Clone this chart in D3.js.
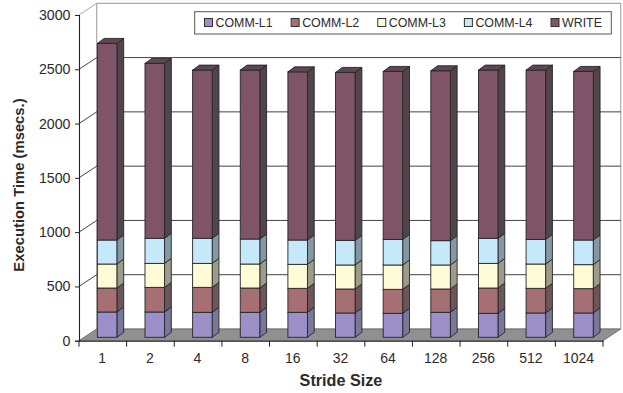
<!DOCTYPE html>
<html>
<head>
<meta charset="utf-8">
<script src="https://d3js.org/d3.v7.min.js"></script>
<style>
    html, body { margin: 0; padding: 0; background: #fff; }
    svg { display: block; }
    text { font-family: "Liberation Sans", Arial, sans-serif; fill: #2b2b2b; }
</style>
</head>
<body>
<div id="dataviz"></div>
<script>
// values (msecs.)
var strideSizes = ["1", "2", "4", "8", "16", "32", "64", "128", "256", "512", "1024"];
var seriesNames = ["COMM-L1", "COMM-L2", "COMM-L3", "COMM-L4", "WRITE"];
var commL1 = [233, 233, 230, 230, 230, 224, 221, 230, 221, 224, 224];
var commL2 = [221, 227, 230, 224, 221, 221, 221, 215, 233, 227, 224];
var commL3 = [221, 221, 221, 221, 221, 221, 224, 221, 227, 224, 221];
var commL4 = [221, 231, 231, 230, 224, 227, 236, 224, 231, 227, 227];
var write = [1811, 1611, 1549, 1556, 1549, 1547, 1547, 1565, 1549, 1559, 1553];
var yTicks = [0, 500, 1000, 1500, 2000, 2500, 3000];

var frontColors = ["#9b90c8", "#a56f73", "#fffbd6", "#c5e9fb", "#7f5468"];
var sideColors = ["#77789c", "#6d5659", "#9c9c8b", "#8398a4", "#51444b"];
var topColor = "#5e4653";

var width = 623, height = 393;

// the box: front plane and how far the back wall is pushed away
var depth = {x: 17.7, y: 11.7};
var barDepth = {x: 6.8, y: 5};
var barOffset = {x: 4.3, y: 3.4};

var svg = d3.select("#dataviz").append("svg")
    .attr("width", width)
    .attr("height", height);

var x = d3.scaleBand()
    .domain(strideSizes)
    .range([79, 603])
    .paddingInner(0.59)
    .paddingOuter(0.295);

var y = d3.scaleLinear()
    .domain([0, 3000])
    .range([340.7, 15]);

var xLeft = x.range()[0], xRight = x.range()[1];
var poly = d3.line();

// back wall and left wall
svg.append("path")
    .attr("d", poly([
        [xLeft + depth.x, y(3000) - depth.y], [xRight + depth.x, y(3000) - depth.y],
        [xRight + depth.x, y(0) - depth.y], [xLeft + depth.x, y(0) - depth.y]
    ]) + "Z")
    .attr("fill", "#fff")
    .attr("stroke", "#a9a9a9")
    .attr("stroke-width", 1.2);

svg.append("line")
    .attr("x1", xLeft).attr("y1", y(3000))
    .attr("x2", xLeft + depth.x).attr("y2", y(3000) - depth.y)
    .attr("stroke", "#a9a9a9");

// gridlines on both walls, 0 and 3000 are the box edges
yTicks.filter(function(d) { return d > 0 && d < 3000; }).forEach(function(d) {
    svg.append("path")
        .attr("d", poly([
            [xLeft, y(d)], [xLeft + depth.x, y(d) - depth.y], [xRight + depth.x, y(d) - depth.y]
        ]))
        .attr("fill", "none")
        .attr("stroke", "#2e2e2e")
        .attr("stroke-width", 0.9);
});

// floor
svg.append("path")
    .attr("d", poly([
        [xLeft, y(0)], [xRight, y(0)],
        [xRight + depth.x, y(0) - depth.y], [xLeft + depth.x, y(0) - depth.y]
    ]) + "Z")
    .attr("fill", "#8f9092")
    .attr("stroke", "#6e6e70")
    .attr("stroke-width", 1);

// stacked bars
var rows = strideSizes.map(function(s, i) {
    return {stride: s, "COMM-L1": commL1[i], "COMM-L2": commL2[i], "COMM-L3": commL3[i],
        "COMM-L4": commL4[i], "WRITE": write[i]};
});
var stacked = d3.stack().keys(seriesNames)(rows);

stacked.forEach(function(layer, k) {
    layer.forEach(function(d) {
        var x0 = x(d.data.stride) + barOffset.x;
        var x1 = x0 + x.bandwidth();
        var yBase = y(d[0]) - barOffset.y;
        var yTop = y(d[1]) - barOffset.y;

        svg.append("path")
            .attr("d", poly([
                [x1, yBase], [x1 + barDepth.x, yBase - barDepth.y],
                [x1 + barDepth.x, yTop - barDepth.y], [x1, yTop]
            ]) + "Z")
            .attr("fill", sideColors[k])
            .attr("stroke", "#262626")
            .attr("stroke-width", 0.9);

        svg.append("rect")
            .attr("x", x0)
            .attr("y", yTop)
            .attr("width", x.bandwidth())
            .attr("height", yBase - yTop)
            .attr("fill", frontColors[k])
            .attr("stroke", "#262626")
            .attr("stroke-width", 0.9);

        // only the last series shows its lid
        if (k == seriesNames.length - 1) {
            svg.append("path")
                .attr("d", poly([
                    [x0, yTop], [x1, yTop],
                    [x1 + barDepth.x, yTop - barDepth.y], [x0 + barDepth.x, yTop - barDepth.y]
                ]) + "Z")
                .attr("fill", topColor)
                .attr("stroke", "#262626")
                .attr("stroke-width", 0.9);
        }
    });
});

// Y axis
var yAxis = svg.append("g")
    .attr("transform", "translate(" + xLeft + ",0)")
    .call(d3.axisLeft(y).tickValues(yTicks).tickFormat(d3.format("d")).tickSize(4).tickPadding(4.5));
yAxis.selectAll("text").style("font-size", "14.2px");

// X axis, ticks sit between the categories
var xAxis = svg.append("g")
    .attr("transform", "translate(0," + y(0) + ")")
    .call(d3.axisBottom(x).tickSize(0).tickPadding(12.5));
xAxis.selectAll("text").style("font-size", "14px").attr("dx", "-0.6");

xAxis.selectAll(".between")
    .data(d3.range(strideSizes.length + 1))
    .enter()
    .append("line")
    .classed("between", true)
    .attr("x1", function(i) { return xLeft + i * x.step(); })
    .attr("x2", function(i) { return xLeft + i * x.step(); })
    .attr("y1", 0)
    .attr("y2", 6)
    .attr("stroke", "#222");

svg.selectAll(".domain").attr("stroke", "#222").attr("stroke-width", 1.1);
svg.selectAll(".tick line").attr("stroke", "#222");

// axis titles
svg.append("text")
    .attr("x", 341)
    .attr("y", 386)
    .text("Stride Size")
    .style("font-size", "16.2px")
    .style("font-weight", "bold")
    .style("text-anchor", "middle");

svg.append("text")
    .attr("transform", "translate(24,185) rotate(-90)")
    .text("Execution Time (msecs.)")
    .style("font-size", "14.8px")
    .style("font-weight", "bold")
    .style("text-anchor", "middle");

// legend
var legendStep = d3.scalePoint()
    .domain(seriesNames)
    .range([204.5, 551]);

svg.append("rect")
    .attr("x", 194.7)
    .attr("y", 11.7)
    .attr("width", 416.6)
    .attr("height", 22.3)
    .attr("fill", "#fff")
    .attr("stroke", "#555");

seriesNames.forEach(function(name, k) {
    svg.append("rect")
        .attr("x", legendStep(name))
        .attr("y", 18.5)
        .attr("width", 8)
        .attr("height", 8)
        .attr("fill", frontColors[k])
        .attr("stroke", "#333");

    svg.append("text")
        .attr("x", legendStep(name) + 11)
        .attr("y", 27)
        .text(name)
        .style("font-size", "12.4px");
});
</script>
</body>
</html>
